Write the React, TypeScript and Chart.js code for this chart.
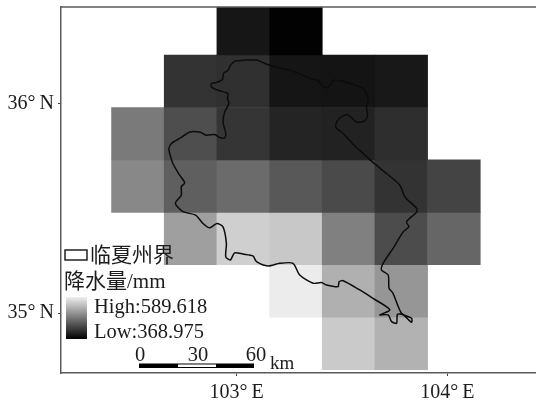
import React, { useEffect, useRef } from "react";
import { Chart, registerables } from "chart.js";

Chart.register(...registerables);

// Cell centres (degrees)
const cellLons = [102.531, 102.781, 103.031, 103.281, 103.531, 103.781, 104.031];
const cellLats = [36.355, 36.105, 35.855, 35.605, 35.355, 35.105, 34.855];
const cellStep = 0.25;
const lowValue = 368.975;
const highValue = 589.618;

// Rainfall (mm) per row, north to south; null = no cell
const row1 = [null, null, 388, 371, null, null, null];
const row2 = [null, 413, 410.5, 387, 386, 390, null];
const row3 = [474.5, 436.5, 415, 400, 398, 409, null];
const row4 = [486.6, 451, 461.5, 445, 433, 413, 428];
const row5 = [null, 506.5, 548, 542, 480, 434.7, 457];
const row6 = [null, null, null, 573, 521, 498.8, null];
const row7 = [null, null, null, null, 543.7, 523, null];
const rows = [row1, row2, row3, row4, row5, row6, row7];

// County boundary
const boundaryLon = [
  102.99, 103.046, 103.094, 103.125, 103.157, 103.204, 103.252, 103.299, 103.347, 103.386, 103.407, 103.434,
  103.457, 103.505, 103.552, 103.6, 103.624, 103.616, 103.621, 103.608, 103.569, 103.545, 103.521, 103.481,
  103.47, 103.505, 103.552, 103.6, 103.647, 103.711, 103.774, 103.798, 103.854, 103.854, 103.806, 103.817,
  103.79, 103.742, 103.695, 103.687, 103.719, 103.723, 103.742, 103.782, 103.83, 103.83, 103.79, 103.763,
  103.759, 103.735, 103.719, 103.679, 103.727, 103.647, 103.584, 103.505, 103.486, 103.481, 103.426, 103.402,
  103.362, 103.299, 103.267, 103.204, 103.149, 103.094, 103.077, 103.03, 102.99, 102.97, 102.948, 102.951,
  102.935, 102.906, 102.872, 102.84, 102.805, 102.745, 102.709, 102.737, 102.737, 102.753, 102.729, 102.697,
  102.682, 102.678, 102.69, 102.737, 102.777, 102.824, 102.856, 102.896, 102.919, 102.943, 102.948, 102.935,
  102.943, 102.963, 102.956, 102.959, 102.911, 102.88, 102.88, 102.904, 102.932, 102.938, 102.959, 102.97, 102.99,
];
const boundaryLat = [
  36.201, 36.206, 36.206, 36.194, 36.181, 36.168, 36.157, 36.141, 36.118, 36.109, 36.081, 36.075,
  36.109, 36.105, 36.089, 36.07, 36.019, 35.982, 35.943, 35.916, 35.91, 35.932, 35.946, 35.922,
  35.887, 35.856, 35.805, 35.761, 35.718, 35.665, 35.61, 35.554, 35.499, 35.481, 35.435, 35.411,
  35.387, 35.308, 35.237, 35.205, 35.181, 35.118, 35.094, 34.999, 34.975, 34.956, 34.991, 34.994,
  34.951, 34.959, 34.991, 34.991, 35.015, 35.07, 35.11, 35.154, 35.149, 35.126, 35.134, 35.145,
  35.142, 35.181, 35.237, 35.237, 35.224, 35.245, 35.272, 35.281, 35.287, 35.253, 35.268, 35.332,
  35.411, 35.427, 35.406, 35.427, 35.467, 35.483, 35.523, 35.562, 35.602, 35.621, 35.657, 35.713,
  35.761, 35.784, 35.808, 35.837, 35.863, 35.863, 35.848, 35.851, 35.837, 35.835, 35.856, 35.911,
  35.959, 35.999, 36.022, 36.046, 36.062, 36.078, 36.094, 36.099, 36.113, 36.144, 36.157, 36.181, 36.201,
];

const lonTicks = [103, 104];
const latTicks = [35, 36];
const legendBoundary = "临夏州界";
const legendTitle = "降水量/mm";
const legendHigh = "High:589.618";
const legendLow = "Low:368.975";
const scaleLabels = ["0", "30", "60"];
const scaleUnit = "km";

const FONT = '"Liberation Serif", "Noto Sans CJK SC", serif';
const grey = (v: number) => {
  const g = Math.round(((v - lowValue) / (highValue - lowValue)) * 255);
  return `rgb(${g},${g},${g})`;
};

const decorations = {
  id: "decorations",
  afterDraw(chart: any) {
    const { ctx, chartArea } = chart;
    ctx.save();
    // top frame line
    ctx.strokeStyle = "#5a5a5a";
    ctx.lineWidth = 1.5;
    ctx.beginPath();
    ctx.moveTo(chartArea.left, chartArea.top);
    ctx.lineTo(chartArea.right, chartArea.top);
    ctx.stroke();

    ctx.fillStyle = "#1c1c1c";
    ctx.textBaseline = "alphabetic";
    ctx.textAlign = "left";
    // boundary swatch
    ctx.strokeStyle = "#222";
    ctx.lineWidth = 1.5;
    ctx.strokeRect(65, 250, 22, 10);
    ctx.font = `21px ${FONT}`;
    ctx.fillText(legendBoundary, 90, 262);
    ctx.fillText(legendTitle, 64, 288);
    // colour ramp
    const g = ctx.createLinearGradient(0, 297, 0, 339);
    g.addColorStop(0, "#eeeeee");
    g.addColorStop(1, "#000000");
    ctx.fillStyle = g;
    ctx.fillRect(66, 297, 21, 42);
    ctx.fillStyle = "#1c1c1c";
    ctx.font = `20.5px ${FONT}`;
    ctx.fillText(legendHigh, 94, 313);
    ctx.fillText(legendLow, 94, 338);
    // scale bar
    ctx.fillStyle = "#000";
    ctx.fillRect(139, 363.5, 115, 4.5);
    ctx.fillStyle = "#fff";
    ctx.fillRect(178, 364.5, 38, 2.5);
    ctx.fillStyle = "#1c1c1c";
    ctx.textAlign = "center";
    [140, 198, 256].forEach((x, i) => ctx.fillText(scaleLabels[i], x, 361));
    ctx.textAlign = "left";
    ctx.font = `19px ${FONT}`;
    ctx.fillText(scaleUnit, 270, 368.5);
    ctx.restore();
  },
};

export default function App() {
  const ref = useRef<HTMLCanvasElement>(null);
  useEffect(() => {
    const datasets: any[] = rows.map((row, r) => ({
      type: "bar",
      order: 2,
      grouped: false,
      barPercentage: 1,
      categoryPercentage: 1,
      borderWidth: 0,
      data: row
        .map((v, c) => (v === null ? null : { x: cellLons[c], y: [cellLats[r] - cellStep / 2, cellLats[r] + cellStep / 2], v }))
        .filter(Boolean),
      backgroundColor: row.filter((v) => v !== null).map((v) => grey(v as number)),
    }));
    datasets.push({
      type: "line",
      order: 1,
      data: boundaryLon.map((x, i) => ({ x, y: boundaryLat[i] })),
      borderColor: "#0c0c0c",
      borderWidth: 1.5,
      pointRadius: 0,
      tension: 0.25,
      fill: false,
    });
    const axis = (ticks: number[], suffix: string, size: any, pad: number) => ({
      type: "linear",
      offset: false,
      afterBuildTicks: (s: any) => {
        s.ticks = ticks.map((value) => ({ value }));
      },
      afterFit: size,
      grid: { offset: false, drawOnChartArea: false, drawTicks: true, tickLength: 3, tickColor: "#444", tickWidth: 1 },
      border: { display: true, color: "#5a5a5a", width: 1.5 },
      ticks: {
        autoSkip: false,
        maxRotation: 0,
        padding: pad,
        color: "#1c1c1c",
        font: { family: FONT, size: 20 },
        callback: (v: any) => `${v}°\u2009${suffix}`,
      },
    });
    const chart = new Chart(ref.current as HTMLCanvasElement, {
      type: "bar",
      data: { datasets },
      plugins: [decorations],
      options: {
        responsive: false,
        animation: false,
        layout: { padding: { top: 7, right: 10, left: 0, bottom: 0 } },
        plugins: { legend: { display: false }, tooltip: { enabled: false } },
        scales: {
          x: {
            ...axis(lonTicks, "E", (s: any) => { s.height = 30; s.paddingLeft = 0; s.paddingRight = 0; }, 5),
            min: 102.166,
            max: 104.487,
          },
          y: {
            ...axis(latTicks, "N", (s: any) => { s.width = 61; s.paddingTop = 0; s.paddingBottom = 0; }, 4),
            min: 34.714,
            max: 36.459,
          },
        },
      } as any,
    } as any);
    return () => chart.destroy();
  }, []);
  return (
    <div style={{ position: "fixed", left: 0, top: 0, width: 536, height: 403, overflow: "hidden", background: "#fff" }}>
      <canvas ref={ref} width={560} height={403} style={{ display: "block" }} />
    </div>
  );
}
